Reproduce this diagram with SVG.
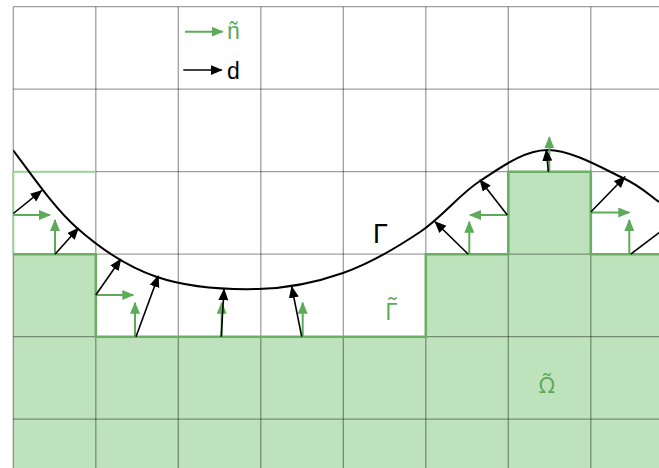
<svg xmlns="http://www.w3.org/2000/svg" width="659" height="468" viewBox="0 0 659 468">
<style>
.grid line{stroke:#000;stroke-opacity:0.38;stroke-width:1.3}
.bd{fill:none;stroke:#69b065;stroke-width:2.6}
.d{stroke:#000;stroke-width:1.6;fill:none;marker-end:url(#hb)}
.n{stroke:#5daa59;stroke-width:2;fill:none;marker-end:url(#hg)}
.lbl{font-family:"Liberation Sans",Arial,sans-serif}
.cmb{font-family:"Noto Sans","DejaVu Sans",sans-serif}
.cmb2{font-family:"Open Sans","Noto Sans",sans-serif}
</style>
<defs>
<marker id="hb" markerUnits="userSpaceOnUse" markerWidth="13" markerHeight="11" refX="11" refY="5" orient="auto"><path d="M0,0 L12,5 L0,10 z" fill="#000"/></marker>
<marker id="hg" markerUnits="userSpaceOnUse" markerWidth="13" markerHeight="11" refX="11" refY="5" orient="auto"><path d="M0,0 L12,5 L0,10 z" fill="#5daa59"/></marker>
<clipPath id="c"><rect x="13.3" y="0" width="660" height="468"/></clipPath>
</defs>
<rect width="659" height="468" fill="#fff"/>
<g id="domain">
<path d="M13.3,254.2 H95.8 V336.7 H425.8 V254.2 H508.3 V171.7 H590.8 V254.2 H659 V468 H13.3 Z" fill="#bee2bb"/>
</g>
<g class="grid" id="grid">
<line x1="13.3" y1="6.7" x2="13.3" y2="468"/>
<line x1="95.8" y1="6.7" x2="95.8" y2="468"/>
<line x1="178.3" y1="6.7" x2="178.3" y2="468"/>
<line x1="260.8" y1="6.7" x2="260.8" y2="468"/>
<line x1="343.3" y1="6.7" x2="343.3" y2="468"/>
<line x1="425.8" y1="6.7" x2="425.8" y2="468"/>
<line x1="508.3" y1="6.7" x2="508.3" y2="468"/>
<line x1="590.8" y1="6.7" x2="590.8" y2="468"/>
<line x1="13.3" y1="6.7" x2="659" y2="6.7"/>
<line x1="13.3" y1="89.2" x2="659" y2="89.2"/>
<line x1="13.3" y1="171.7" x2="659" y2="171.7"/>
<line x1="13.3" y1="254.2" x2="659" y2="254.2"/>
<line x1="13.3" y1="336.7" x2="659" y2="336.7"/>
<line x1="13.3" y1="419.2" x2="659" y2="419.2"/>
</g>
<g id="boundary">
<path d="M13.3,254.2 V171.7 H95.8" fill="none" stroke="#9fd29b" stroke-width="2"/>
<path class="bd" d="M13.3,254.2 H95.8 V336.7 H425.8 V254.2 H508.3 V171.7 H590.8 V254.2 H659"/>
</g>
<g id="curve" clip-path="url(#c)">
<path d="M13,150 C29.2,171.3 53,206.8 77,228 C101,249.2 126.8,266.8 157,277 C187.2,287.2 227,289.7 258,289 C289,288.3 316,282.5 343,273 C370,263.5 397.2,247.3 420,232 C442.8,216.7 458.8,194.7 480,181 C501.2,167.3 523.2,150.5 547,150 C570.8,149.5 604.3,169.3 623,178 C641.7,186.7 647.8,194.2 659,202" fill="none" stroke="#000" stroke-width="2"/>
</g>
<g id="connectors">
<g id="normals">
<line class="n" x1="13.3" y1="215" x2="50" y2="215"/>
<line class="n" x1="55" y1="254.2" x2="55" y2="220"/>
<line class="n" x1="95.8" y1="295" x2="133.3" y2="295"/>
<line class="n" x1="135" y1="336.7" x2="135" y2="302.7"/>
<line class="n" x1="221.7" y1="336.7" x2="221.7" y2="302.7"/>
<line class="n" x1="302.7" y1="336.7" x2="302.7" y2="302.7"/>
<line class="n" x1="469.3" y1="254.2" x2="469.3" y2="221.7"/>
<line class="n" x1="507.3" y1="215" x2="470" y2="215"/>
<line class="n" x1="549.3" y1="171.7" x2="549.3" y2="137.3"/>
<line class="n" x1="590.8" y1="212.5" x2="629.3" y2="212.5"/>
<line class="n" x1="629.3" y1="254.2" x2="629.3" y2="220"/>
</g>
<g id="distances">
<line class="d" x1="13.3" y1="213.5" x2="41.7" y2="190.7"/>
<line class="d" x1="55" y1="254.2" x2="78.3" y2="228.3"/>
<line class="d" x1="95.8" y1="295" x2="120.7" y2="259.3"/>
<line class="d" x1="136" y1="336.7" x2="158.3" y2="276"/>
<line class="d" x1="221.2" y1="336.7" x2="224" y2="289.3"/>
<line class="d" x1="301.7" y1="336.7" x2="291.7" y2="286.7"/>
<line class="d" x1="468.3" y1="254.2" x2="435" y2="221.7"/>
<line class="d" x1="507.3" y1="215" x2="480" y2="180"/>
<line class="d" x1="548.3" y1="171.7" x2="546.3" y2="150"/>
<line class="d" x1="590.8" y1="212" x2="625" y2="176.7"/>
<line class="d" x1="630.7" y1="254.2" x2="672" y2="223"/>
</g>
</g>
<g id="legend">
<line class="n" x1="185" y1="31.7" x2="222.7" y2="31.7"/>
<text class="lbl" x="227" y="38.5" font-size="23" fill="#5daa59">ñ</text>
<line class="d" x1="183.3" y1="70" x2="221.7" y2="70"/>
<text class="lbl" x="227" y="79" font-size="23" fill="#000">d</text>
</g>
<g id="labels">
<text class="lbl" x="373" y="243" font-size="27" fill="#000">Γ</text>
<text class="cmb2" x="385" y="319.5" font-size="24" fill="#5daa59">Γ̃</text>
<text class="cmb" x="539" y="393" font-size="22" fill="#5daa59">Ω̃</text>
</g>
</svg>
